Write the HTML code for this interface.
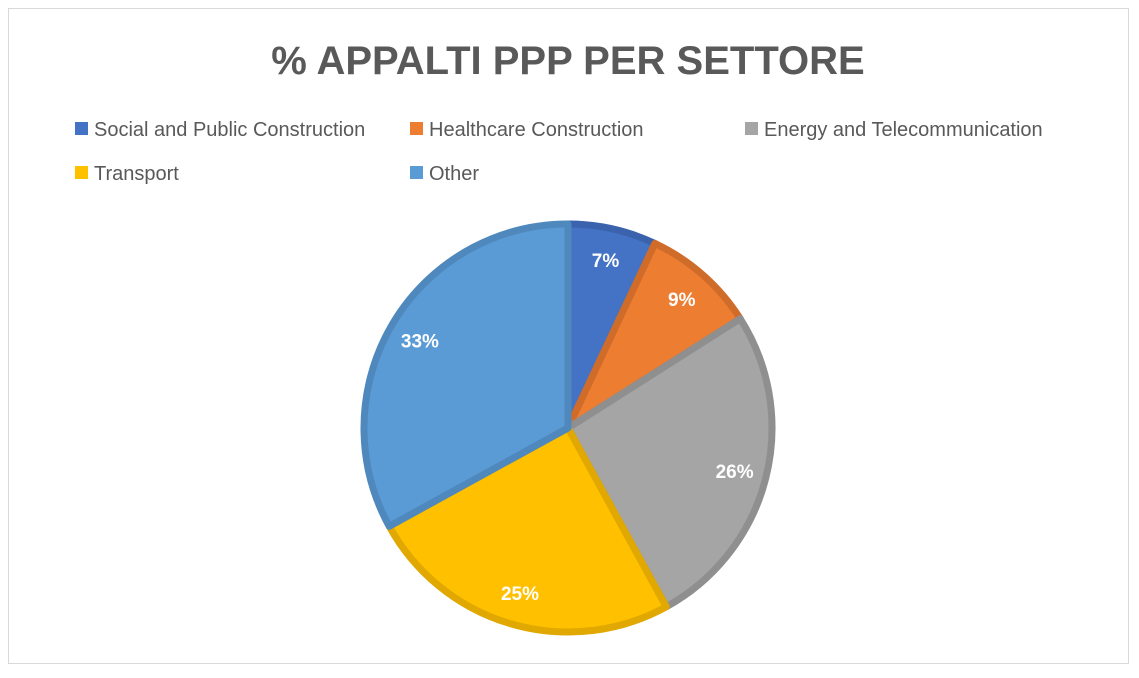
<!DOCTYPE html>
<html><head><meta charset="utf-8"><style>
body{margin:0;background:#fff;width:1139px;height:673px;overflow:hidden;font-family:"Liberation Sans",Arial,sans-serif}
</style></head><body>
<svg width="1139" height="673" xmlns="http://www.w3.org/2000/svg">
<rect x="8.5" y="8.5" width="1120" height="655" fill="#fff" stroke="#d9d9d9"/>
<text x="568" y="74" text-anchor="middle" font-size="40" font-weight="bold" fill="#595959">% APPALTI PPP PER SETTORE</text>
<g id="legend"></g>
<g id="slices"></g>
<g id="labels"></g>
</svg>
<script>
const categories=["Social and Public Construction","Healthcare Construction","Energy and Telecommunication","Transport","Other"];
const values=[7,9,26,25,33];
const fills=["#4472C4","#ED7D31","#A5A5A5","#FFC000","#5B9BD5"];
const strokes=["#3b63ad","#d06c29","#8f8f8f","#e0a800","#4f88bd"];
const NS="http://www.w3.org/2000/svg";
const cx=568,cy=428,R=204;
const total=values.reduce((a,b)=>a+b,0);
const sg=document.getElementById('slices'),lg=document.getElementById('labels'),leg=document.getElementById('legend');
function pt(a,r){return [cx+r*Math.sin(a),cy-r*Math.cos(a)];}
let acc=0;
values.forEach((v,i)=>{
 const a0=acc/total*2*Math.PI; acc+=v; const a1=acc/total*2*Math.PI;
 const p0=pt(a0,R),p1=pt(a1,R);
 const p=document.createElementNS(NS,'path');
 p.setAttribute('d',`M${cx},${cy}L${p0[0]},${p0[1]}A${R},${R} 0 ${a1-a0>Math.PI?1:0} 1 ${p1[0]},${p1[1]}Z`);
 p.setAttribute('fill',fills[i]);p.setAttribute('stroke',strokes[i]);p.setAttribute('stroke-width','7');p.setAttribute('stroke-linejoin','round');
 
 
 sg.appendChild(p);
 const m=(a0+a1)/2,lp=pt(m,172);
 const t=document.createElementNS(NS,'text');
 t.setAttribute('x',lp[0]);t.setAttribute('y',lp[1]+7);t.setAttribute('text-anchor','middle');
 t.setAttribute('font-size','19');t.setAttribute('font-weight','bold');t.setAttribute('fill','#fff');
 t.textContent=v+'%';
 
 
 lg.appendChild(t);
});
const lx=[75,410,745],ly=[129,173];
categories.forEach((c,i)=>{
 const x=lx[i%3],y=ly[Math.floor(i/3)];
 const g=document.createElementNS(NS,'g');
 
 
 const r=document.createElementNS(NS,'rect');
 r.setAttribute('x',x);r.setAttribute('y',y-7);r.setAttribute('width',13);r.setAttribute('height',13);r.setAttribute('fill',fills[i]);
 const t=document.createElementNS(NS,'text');
 t.setAttribute('x',x+19);t.setAttribute('y',y+7);t.setAttribute('font-size','20');t.setAttribute('fill','#595959');
 t.textContent=c;
 g.appendChild(r);g.appendChild(t);leg.appendChild(g);
});
</script>
</body></html>
